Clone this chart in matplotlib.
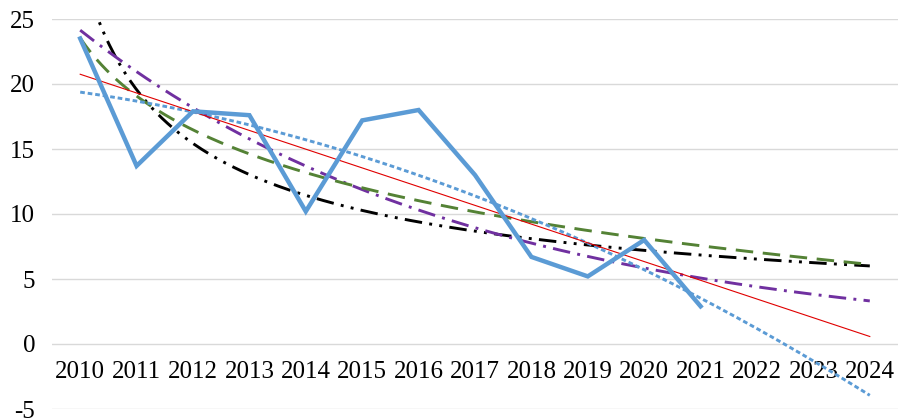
import matplotlib
matplotlib.use("Agg")
import matplotlib.pyplot as plt
import numpy as np

# categories and observed values (2010-2021), trendlines forecast to 2024
years = [str(y) for y in range(2010, 2025)]
data_years = list(range(2010, 2022))
values = [23.5, 13.7, 17.9, 17.6, 10.2, 17.2, 18.0, 13.0, 6.7, 5.2, 8.0, 2.9]

plt.rcParams['font.family'] = ['Liberation Serif', 'DejaVu Serif']
plt.rcParams['axes.unicode_minus'] = False

x = np.arange(1, len(values) + 1)          # excel style 1..n
y = np.array(values)
xf = np.linspace(1, len(years), 300)       # fitted curve incl. forecast

# trendlines fitted to the data
lin = np.polyfit(x, y, 1)
poly = np.polyfit(x, y, 2)
lg = np.polyfit(np.log(x), y, 1)
ex = np.polyfit(x, np.log(y), 1)
pw = np.polyfit(np.log(x), np.log(y), 1)

fig = plt.figure(figsize=(9, 4.2), dpi=100)
ax = fig.add_axes([52 / 900, 11 / 420, 846 / 900, 390 / 420])

pos = xf - 1
lw = 2.1
ax.plot(pos, np.exp(pw[1]) * xf ** pw[0], color='black', lw=lw,
        dashes=(6, 2.5, 1, 2.5, 1, 2.5), zorder=3)
ax.plot(pos, np.exp(ex[1]) * np.exp(ex[0] * xf), color='#7030A0', lw=lw,
        dashes=(6, 2.5, 1, 2.5), zorder=3)
ax.plot(pos, lg[0] * np.log(xf) + lg[1], color='#548235', lw=lw,
        dashes=(6, 3.3), zorder=3)
ax.plot(pos, np.polyval(poly, xf), color='#5B9BD5', lw=lw,
        dashes=(1.6, 1), zorder=3)
ax.plot(pos, np.polyval(lin, xf), color='#E00000', lw=0.8, zorder=3)
ax.plot(x - 1, y, color='#5B9BD5', lw=3.2, solid_joinstyle='miter', zorder=4)

ax.set_xlim(-0.5, len(years) - 0.5)
ax.set_ylim(-5, 25)
ax.set_yticks(range(-5, 26, 5))
ax.set_xticks(range(len(years)))
ax.set_xticklabels(years)
ax.grid(axis='y', color='#D9D9D9', lw=1)
ax.set_axisbelow(True)
for s in ax.spines.values():
    s.set_visible(False)
ax.spines['bottom'].set_position(('data', 0))
ax.tick_params(axis='both', length=0, labelsize=18)
ax.tick_params(axis='x', pad=12)
ax.tick_params(axis='y', pad=12)

fig.savefig('out.png', dpi=100)
